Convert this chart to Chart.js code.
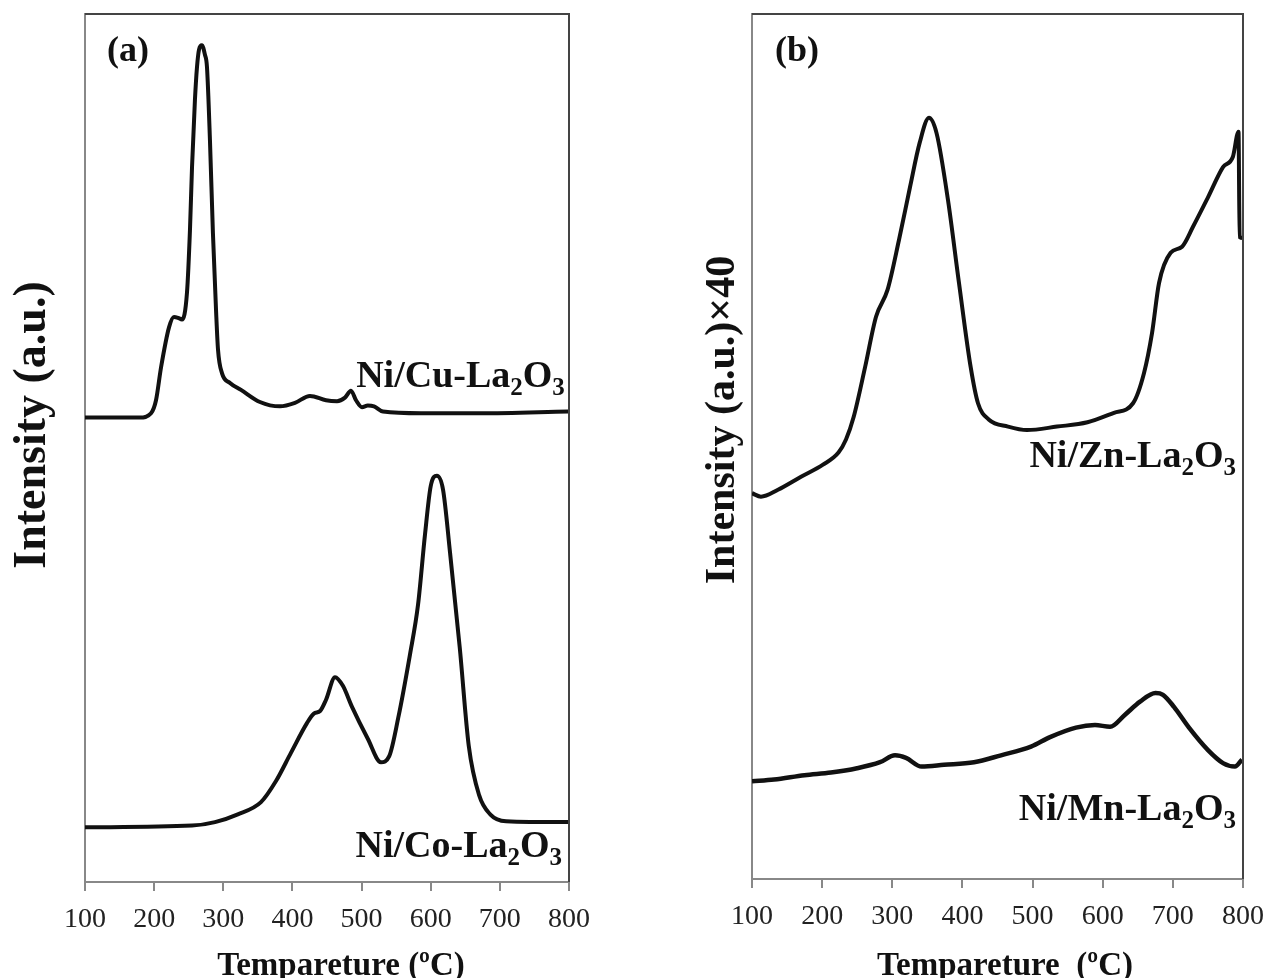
<!DOCTYPE html>
<html>
<head>
<meta charset="utf-8">
<script src="https://cdn.jsdelivr.net/npm/chart.js@4.4.1/dist/chart.umd.min.js"></script>
<style>
  html, body { margin: 0; padding: 0; background: #fff; }
  body { width: 1269px; height: 978px; position: relative; overflow: hidden; }
  .panel { position: absolute; top: 0; height: 978px; }
  #wrapA { left: 0; width: 602px; }
  #wrapB { left: 690px; width: 586px; }
</style>
</head>
<body>
<div class="panel" id="wrapA"><canvas id="chartA"></canvas></div>
<div class="panel" id="wrapB"><canvas id="chartB"></canvas></div>
<script>
// ===== data (temperature in °C, intensity in a.u.) =====
const xTicks = [100, 200, 300, 400, 500, 600, 700, 800];

// panel (a)
const cuTemp = [100, 179.5, 195.5, 202.7, 210, 221.5, 228.7, 234.5, 240.3, 247.5, 251.8, 254.8, 259, 262, 264.9, 269,
  273.5, 276.4, 280.7, 285, 289.5, 292.4, 298.2, 309.7, 325.6, 353, 382, 403.7, 425.4, 448.6, 464.5, 476, 484.7,
  492, 500.6, 509, 518, 531, 586, 671, 798.6];
const cuInt = [53.5, 53.5, 54.0, 55.5, 59.3, 63.9, 65.1, 65.0, 64.8, 67.9, 75.1, 82.4, 90.1, 93.9, 95.9, 96.4,
  95.3, 93.9, 85.5, 74.8, 65.9, 61.3, 58.6, 57.5, 56.7, 55.3, 54.8, 55.2, 56.0, 55.5, 55.4, 55.8, 56.6,
  55.5, 54.7, 54.9, 54.8, 54.2, 54.0, 54.0, 54.2];

const coTemp = [100, 254.8, 288, 321, 354.5, 376, 398, 421, 431, 440, 448.6, 461.6, 473, 486, 509, 528, 540, 553,
  570, 581.6, 591.7, 600, 609, 617.8, 628, 642, 655, 670, 686, 709, 791, 798.6];
const coInt = [6.3, 6.5, 6.9, 7.8, 9.2, 11.6, 14.9, 18.3, 19.4, 19.7, 21.0, 23.6, 22.6, 20.2, 16.5, 13.8, 14.5, 18.9,
  26.2, 31.9, 40.0, 45.6, 46.8, 45.2, 37.9, 27.0, 15.7, 10.0, 7.8, 7.0, 6.9, 6.9];

// panel (b)
const znTemp = [100, 112.8, 137, 169.9, 201.2, 223.3, 234, 244.9, 261.3, 276.8, 293.2, 309.6, 325.3, 339, 352.3,
  363.2, 379.4, 395.1, 411.7, 422.2, 437.9, 465, 492, 534.8, 578.3, 616.1, 643.2, 658.9, 670.3, 680.3, 696.8,
  713.1, 728.7, 750.1, 771.5, 785.6, 793.6, 795.2, 800];
const znInt = [44.6, 44.2, 45.0, 46.5, 47.9, 49.3, 50.8, 53.4, 59.2, 65.0, 68.1, 73.9, 80.0, 85.1, 88.0,
  86.2, 78.5, 68.9, 59.2, 55.0, 53.1, 52.3, 51.9, 52.3, 52.8, 53.9, 55.0, 58.5, 63.1, 68.9, 72.4,
  73.1, 75.4, 78.8, 82.3, 83.5, 86.4, 74.2, 74.1];

const mnTemp = [100, 131.4, 174.9, 212.6, 249.7, 282.5, 303.9, 319.6, 341.7, 373.7, 416.5, 455, 497.8, 524.9,
  561.9, 589, 610.4, 631.8, 653.2, 675.3, 685.9, 701.6, 723, 750.1, 771.5, 788.5, 798.6];
const mnInt = [11.3, 11.5, 12.0, 12.3, 12.8, 13.5, 14.3, 14.0, 13.0, 13.2, 13.5, 14.3, 15.3, 16.4,
  17.5, 17.8, 17.6, 19.0, 20.5, 21.5, 21.3, 19.9, 17.5, 14.9, 13.4, 13.0, 13.8];

const SERIF = '"Liberation Serif", "Times New Roman", serif';

function toPoints(xs, ys) {
  return xs.map((t, i) => ({ x: t, y: ys[i] }));
}

function lineSet(xs, ys, width) {
  return {
    data: toPoints(xs, ys),
    borderColor: '#111',
    borderWidth: width,
    pointRadius: 0,
    cubicInterpolationMode: 'monotone',
    fill: false
  };
}

// formula like Ni/Cu-La2O3 with subscripts, right aligned at (xr, yb)
function drawFormula(ctx, parts, xr, yb) {
  const big = 'bold 38px ' + SERIF;
  const small = 'bold 25px ' + SERIF;
  let total = 0;
  parts.forEach(p => { ctx.font = p[1] ? small : big; total += ctx.measureText(p[0]).width; });
  let x = xr - total;
  parts.forEach(p => {
    ctx.font = p[1] ? small : big;
    ctx.fillText(p[0], x, p[1] ? yb + 8 : yb);
    x += ctx.measureText(p[0]).width;
  });
}

const panelDeco = {
  id: 'panelDeco',
  afterDraw(chart, args, opts) {
    const { ctx, chartArea: a, scales } = chart;
    ctx.save();
    // top and right edges of the frame
    ctx.strokeStyle = '#444';
    ctx.lineWidth = 2;
    ctx.beginPath();
    ctx.moveTo(a.left, a.top);
    ctx.lineTo(a.right, a.top);
    ctx.lineTo(a.right, a.bottom);
    ctx.stroke();

    ctx.fillStyle = '#111';
    ctx.textBaseline = 'alphabetic';
    ctx.textAlign = 'left';
    ctx.font = 'bold 36px ' + SERIF;
    ctx.fillText(opts.tag, a.left + opts.tagDx, a.top + opts.tagDy);

    opts.labels.forEach(l => {
      drawFormula(ctx, l.parts, scales.x.getPixelForValue(l.x), scales.y.getPixelForValue(l.y));
    });

    // axis titles
    ctx.textAlign = 'center';
    ctx.textBaseline = 'middle';
    ctx.font = 'bold 33px ' + SERIF;
    ctx.fillText(opts.xTitle, opts.xTitleX, opts.xTitleY);

    ctx.translate(opts.yTitleX, opts.yTitleY);
    ctx.rotate(-Math.PI / 2);
    ctx.font = 'bold ' + opts.yTitleSize + 'px ' + SERIF;
    ctx.fillText(opts.yTitle, 0, 0);
    ctx.restore();
  }
};

function makePanel(canvasId, datasets, yAxisWidth, xAxisHeight, padRight, deco) {
  return new Chart(document.getElementById(canvasId), {
    type: 'line',
    data: { datasets: datasets },
    plugins: [panelDeco],
    options: {
      responsive: true,
      maintainAspectRatio: false,
      animation: false,
      layout: { padding: { top: 14, right: padRight, bottom: 0, left: 0 } },
      plugins: {
        legend: { display: false },
        tooltip: { enabled: false },
        panelDeco: deco
      },
      scales: {
        x: {
          type: 'linear',
          min: 100,
          max: 800,
          afterBuildTicks: s => { s.ticks = xTicks.map(v => ({ value: v })); },
          afterFit: s => { s.height = xAxisHeight; },
          grid: { display: true, drawOnChartArea: false, drawTicks: true, tickLength: 9, color: '#888', lineWidth: 2 },
          border: { display: true, color: '#888', width: 2 },
          ticks: { color: '#222', padding: 12, font: { family: SERIF, size: 28 } },
          title: { display: false }
        },
        y: {
          min: 0,
          max: 100,
          afterFit: s => { s.width = yAxisWidth; },
          grid: { display: false },
          border: { display: true, color: '#888', width: 2 },
          ticks: { display: false },
          title: { display: false }
        }
      }
    }
  });
}

makePanel('chartA',
  [lineSet(cuTemp, cuInt, 4), lineSet(coTemp, coInt, 4)],
  85, 96, 33,
  {
    tag: '(a)', tagDx: 22, tagDy: 47,
    xTitle: 'Tempareture (ºC)', xTitleX: 341, xTitleY: 966,
    yTitle: 'Intensity (a.u.)', yTitleX: 33, yTitleY: 425, yTitleSize: 46,
    labels: [
      { x: 794, y: 57.0, parts: [['Ni/Cu-La', false], ['2', true], ['O', false], ['3', true]] },
      { x: 790, y: 2.9, parts: [['Ni/Co-La', false], ['2', true], ['O', false], ['3', true]] }
    ]
  });

makePanel('chartB',
  [lineSet(znTemp, znInt, 4), lineSet(mnTemp, mnInt, 4.5)],
  62, 99, 33,
  {
    tag: '(b)', tagDx: 23, tagDy: 47,
    xTitle: 'Tempareture  (ºC)', xTitleX: 315, xTitleY: 966,
    yTitle: 'Intensity (a.u.)×40', yTitleX: 33, yTitleY: 420, yTitleSize: 42,
    labels: [
      { x: 790, y: 47.6, parts: [['Ni/Zn-La', false], ['2', true], ['O', false], ['3', true]] },
      { x: 790, y: 6.8, parts: [['Ni/Mn-La', false], ['2', true], ['O', false], ['3', true]] }
    ]
  });
</script>
</body>
</html>
